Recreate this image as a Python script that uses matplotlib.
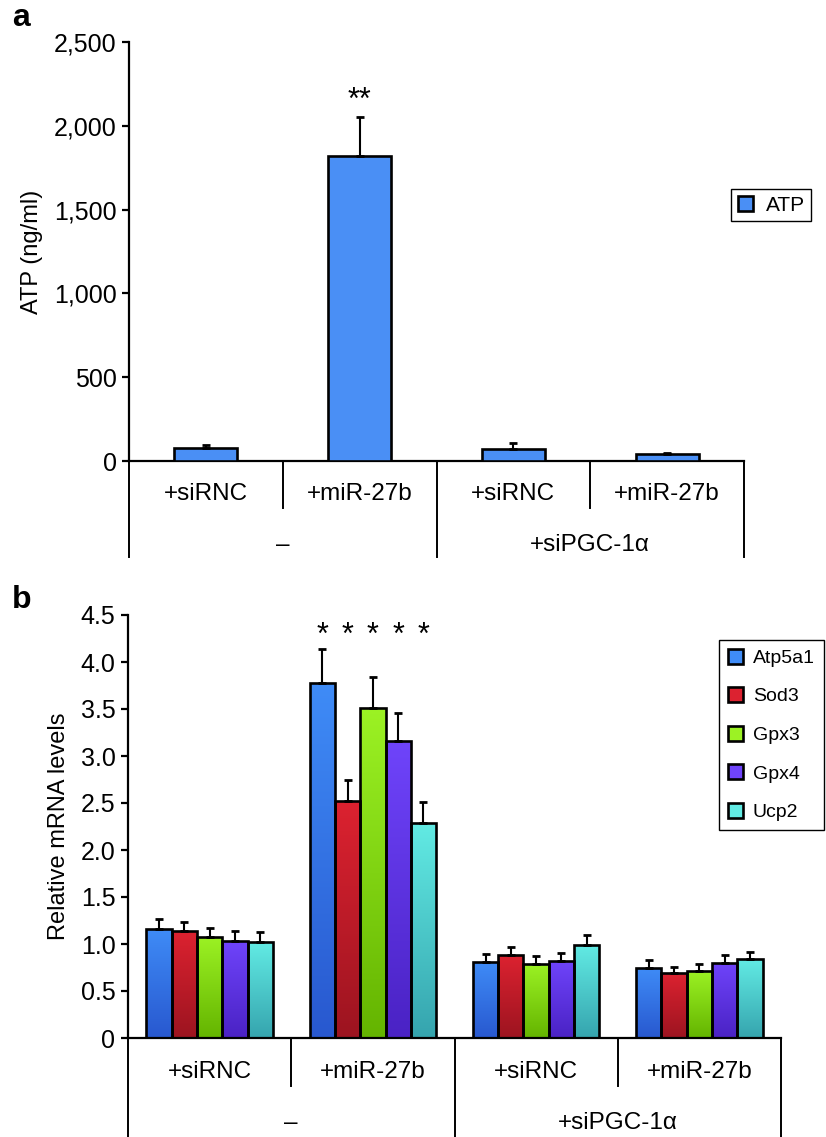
import numpy as np
import matplotlib
matplotlib.use('Agg')
from matplotlib import pyplot as plt
from matplotlib.colors import LinearSegmentedColormap
from matplotlib.patches import Patch

plt.rcParams['font.family'] = ['Liberation Sans', 'DejaVu Sans']
plt.rcParams['font.size'] = 17

# ---- data ----
conds = ['+siRNC', '+miR-27b', '+siRNC', '+miR-27b']
groups = ['\u2013', '+siPGC-1\u03b1']

atp = [78, 1820, 72, 42]
atp_err = [17, 232, 35, 8]

genes = ['Atp5a1', 'Sod3', 'Gpx3', 'Gpx4', 'Ucp2']
mrna = {
    'Atp5a1': [1.16, 3.78, 0.81, 0.745],
    'Sod3':   [1.135, 2.52, 0.88, 0.69],
    'Gpx3':   [1.075, 3.51, 0.79, 0.715],
    'Gpx4':   [1.035, 3.16, 0.82, 0.80],
    'Ucp2':   [1.02, 2.29, 0.99, 0.84],
}
mrna_err = {
    'Atp5a1': [0.11, 0.36, 0.085, 0.08],
    'Sod3':   [0.10, 0.23, 0.09, 0.07],
    'Gpx3':   [0.10, 0.33, 0.08, 0.072],
    'Gpx4':   [0.10, 0.30, 0.085, 0.08],
    'Ucp2':   [0.11, 0.22, 0.105, 0.08],
}
# light (top) / dark (bottom) colour of each gene's bars
gene_cols = {
    'Atp5a1': ('#3f8cf7', '#2858cf'),
    'Sod3':   ('#dc2230', '#9c1420'),
    'Gpx3':   ('#9cf224', '#64b400'),
    'Gpx4':   ('#6f44fb', '#4a22c4'),
    'Ucp2':   ('#62ebe4', '#35a4ae'),
}

fig = plt.figure(figsize=(8.26, 11.37), dpi=100)
H = 1137.0
W = 826.0


def group_table(ax, inner_y, outer_y, lab1_y, lab2_y):
    tr = ax.get_xaxis_transform()
    for xs in [-0.5, 1.5, 3.5]:
        ax.plot([xs, xs], [0, outer_y], color='k', lw=1.4, transform=tr, clip_on=False)
    for xs in [0.5, 2.5]:
        ax.plot([xs, xs], [0, inner_y], color='k', lw=1.4, transform=tr, clip_on=False)
    for i, c in enumerate(conds):
        ax.text(i, lab1_y, c, transform=tr, ha='center', va='center', fontsize=17.5)
    ax.text(0.5, lab2_y, groups[0], transform=tr, ha='center', va='center', fontsize=17.5)
    ax.text(2.5, lab2_y, groups[1], transform=tr, ha='center', va='center', fontsize=17.5)


def style_axes(ax):
    ax.spines['top'].set_visible(False)
    ax.spines['right'].set_visible(False)
    ax.spines['left'].set_linewidth(1.6)
    ax.spines['bottom'].set_linewidth(1.6)
    ax.set_xticks([])
    ax.tick_params(axis='y', direction='out', length=5, width=1.6, labelsize=18, pad=4)
    ax.set_xlim(-0.5, 3.5)


# ---- panel a ----
axa = fig.add_axes([129 / W, 1 - 461 / H, (744 - 129) / W, (461 - 42) / H])
x = np.arange(len(conds))
axa.bar(x, atp, width=0.41, color='#4a8ff5', edgecolor='k', linewidth=1.9,
        yerr=[np.zeros(len(atp)), atp_err], capsize=3,
        error_kw=dict(elinewidth=1.5, capthick=2, ecolor='k'), zorder=3)
axa.set_ylim(0, 2500)
axa.set_yticks([0, 500, 1000, 1500, 2000, 2500])
axa.set_yticklabels(['0', '500', '1,000', '1,500', '2,000', '2,500'])
axa.set_ylabel('ATP (ng/ml)', fontsize=17, labelpad=8)
style_axes(axa)
axa.text(1, 2150, '**', ha='center', va='center', fontsize=22)
group_table(axa, -47 / 419, -96 / 419, -33 / 419, -84 / 419)
fig.legend(handles=[Patch(facecolor='#4a8ff5', edgecolor='k', linewidth=1.9, label='ATP')],
           loc='upper left', bbox_to_anchor=(721 / W, 1 - 179 / H), fancybox=False,
           edgecolor='k', framealpha=1, fontsize=15, handlelength=0.75, handleheight=0.75,
           handletextpad=0.6, borderpad=0.3)

# ---- panel b ----
axb = fig.add_axes([128 / W, 1 - 1038 / H, (781 - 128) / W, (1038 - 615) / H])
bw = 0.155
grad = np.linspace(0, 1, 256).reshape(-1, 1)
handles = []
for j, g in enumerate(genes):
    xpos = x + (j - 2) * bw
    bars = axb.bar(xpos, mrna[g], width=bw, color='none', edgecolor='k', linewidth=1.9,
                   yerr=[np.zeros(4), mrna_err[g]], capsize=3,
                   error_kw=dict(elinewidth=1.5, capthick=2, ecolor='k'), zorder=3)
    cmap = LinearSegmentedColormap.from_list(g, [gene_cols[g][1], gene_cols[g][0]])
    for b in bars:
        bx, by = b.get_x(), b.get_y()
        im = axb.imshow(grad, cmap=cmap, origin='lower', aspect='auto',
                        extent=[bx, bx + b.get_width(), by, by + b.get_height()], zorder=2)
        im.set_clip_path(b)
    handles.append(Patch(facecolor=gene_cols[g][0], edgecolor='k', linewidth=1.9, label=g))
    axb.text(1 + (j - 2) * bw, 4.28, '*', ha='center', va='center', fontsize=22)

axb.set_xlim(-0.5, 3.5)
axb.set_ylim(0, 4.5)
axb.set_yticks(np.arange(0, 4.6, 0.5))
axb.set_yticklabels(['0'] + ['%.1f' % v for v in np.arange(0.5, 4.6, 0.5)])
axb.set_ylabel('Relative mRNA levels', fontsize=17, labelpad=8)
style_axes(axb)
group_table(axb, -48 / 423, -99 / 423, -34 / 423, -85 / 423)
fig.legend(handles=handles, loc='upper left', bbox_to_anchor=(715 / W, 1 - 636 / H),
           fancybox=False, edgecolor='k', framealpha=1, fontsize=14, handlelength=0.8,
           handleheight=0.8, handletextpad=0.5, labelspacing=1.05, borderpad=0.45,
           borderaxespad=0.2)

fig.text(12 / W, 1 - 18 / H, 'a', fontsize=23, fontweight='bold', va='center')
fig.text(12 / W, 1 - 600 / H, 'b', fontsize=23, fontweight='bold', va='center')

fig.savefig('out.png', dpi=100)
